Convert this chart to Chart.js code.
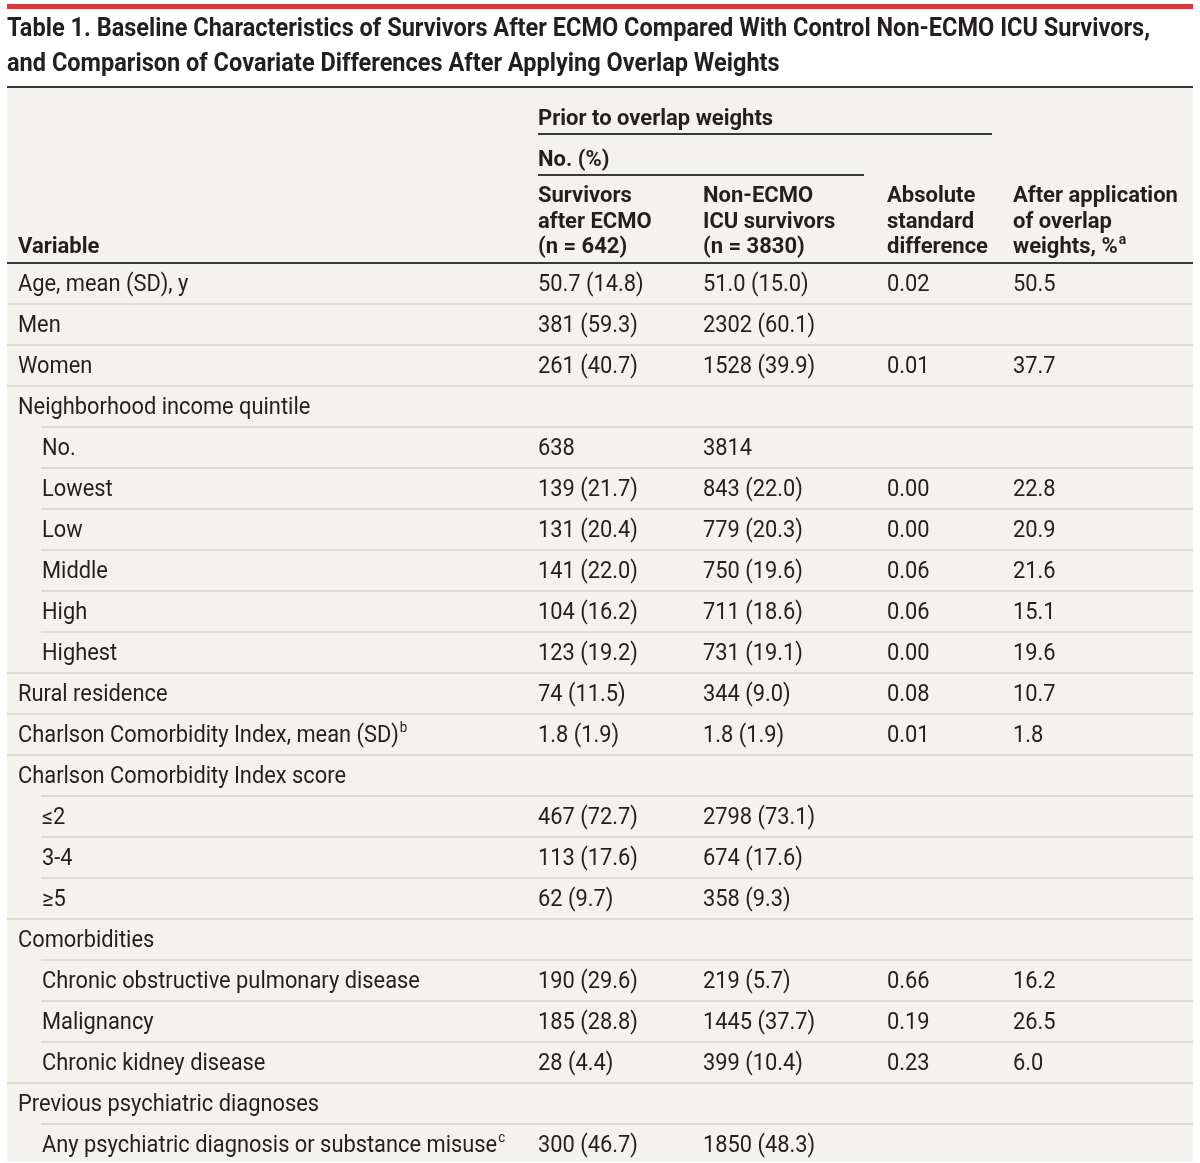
<!DOCTYPE html>
<html>
<head>
<meta charset="utf-8">
<script src="https://cdn.jsdelivr.net/npm/chart.js@4.4.1/dist/chart.umd.min.js"></script>
<style>
  html, body { margin: 0; padding: 0; background: #fff; overflow: hidden; }
  #wrap { width: 1200px; height: 1165px; }
</style>
</head>
<body>
<div id="wrap"><canvas id="tableChart" width="1200" height="1165"></canvas></div>
<script>
// table content
const titleLines = [
  'Table 1. Baseline Characteristics of Survivors After ECMO Compared With Control Non-ECMO ICU Survivors,',
  'and Comparison of Covariate Differences After Applying Overlap Weights'
];
const spanner = 'Prior to overlap weights';
const subSpanner = 'No. (%)';
const columnHeads = [
  ['Variable'],
  ['Survivors', 'after ECMO', '(n = 642)'],
  ['Non-ECMO', 'ICU survivors', '(n = 3830)'],
  ['Absolute', 'standard', 'difference'],
  ['After application', 'of overlap', 'weights, %^a']
];

// ^ marks a footnote superscript
const variables = [
  'Age, mean (SD), y', 'Men', 'Women', 'Neighborhood income quintile',
  'No.', 'Lowest', 'Low', 'Middle', 'High', 'Highest',
  'Rural residence', 'Charlson Comorbidity Index, mean (SD)^b',
  'Charlson Comorbidity Index score', '≤2', '3-4', '≥5',
  'Comorbidities', 'Chronic obstructive pulmonary disease', 'Malignancy', 'Chronic kidney disease',
  'Previous psychiatric diagnoses', 'Any psychiatric diagnosis or substance misuse^c'
];
// 0 = top level row, 1 = sub row
const level = [0, 0, 0, 0, 1, 1, 1, 1, 1, 1, 0, 0, 0, 1, 1, 1, 0, 1, 1, 1, 0, 1];
const ecmoSurvivors = [
  '50.7 (14.8)', '381 (59.3)', '261 (40.7)', '', '638', '139 (21.7)', '131 (20.4)', '141 (22.0)',
  '104 (16.2)', '123 (19.2)', '74 (11.5)', '1.8 (1.9)', '', '467 (72.7)', '113 (17.6)', '62 (9.7)',
  '', '190 (29.6)', '185 (28.8)', '28 (4.4)', '', '300 (46.7)'
];
const nonEcmoSurvivors = [
  '51.0 (15.0)', '2302 (60.1)', '1528 (39.9)', '', '3814', '843 (22.0)', '779 (20.3)', '750 (19.6)',
  '711 (18.6)', '731 (19.1)', '344 (9.0)', '1.8 (1.9)', '', '2798 (73.1)', '674 (17.6)', '358 (9.3)',
  '', '219 (5.7)', '1445 (37.7)', '399 (10.4)', '', '1850 (48.3)'
];
const absStdDiff = [
  '0.02', '', '0.01', '', '', '0.00', '0.00', '0.06', '0.06', '0.00', '0.08', '0.01',
  '', '', '', '', '', '0.66', '0.19', '0.23', '', ''
];
const afterOverlap = [
  '50.5', '', '37.7', '', '', '22.8', '20.9', '21.6', '15.1', '19.6', '10.7', '1.8',
  '', '', '', '', '', '16.2', '26.5', '6.0', '', ''
];
const columns = [variables, ecmoSurvivors, nonEcmoSurvivors, absStdDiff, afterOverlap];

// layout (pixels)
const colX = [18, 538, 703, 887, 1013];
const subIndent = 24;
const tableLeft = 7, tableRight = 1193;
const FONT = 'Roboto, "Open Sans", sans-serif';
const bodyNarrow = 0.95;
const headNarrow = 1.0;

function drawRich(ctx, text, x, y, size, weight, sx) {
  const parts = text.split('^');
  ctx.save();
  ctx.translate(x, y);
  ctx.scale(sx, 1);
  ctx.font = weight + ' ' + size + 'px ' + FONT;
  ctx.fillText(parts[0], 0, 0);
  if (parts[1]) {
    const w = ctx.measureText(parts[0]).width;
    ctx.font = weight + ' ' + Math.round(size * 0.62) + 'px ' + FONT;
    ctx.fillText(parts[1], w + 1, -size * 0.42);
  }
  ctx.restore();
}

function hLine(ctx, x1, x2, y, color, w) {
  ctx.save();
  ctx.strokeStyle = color;
  ctx.lineWidth = w;
  ctx.beginPath();
  ctx.moveTo(x1, y);
  ctx.lineTo(x2, y);
  ctx.stroke();
  ctx.restore();
}

const tablePlugin = {
  id: 'tablePlugin',
  beforeDraw(chart) {
    const ctx = chart.ctx;
    const top = chart.chartArea.top;
    const yScale = chart.scales.y;
    const rowH = yScale.getPixelForValue(1) - yScale.getPixelForValue(0);

    // title block
    ctx.fillStyle = '#ffffff';
    ctx.fillRect(0, 0, chart.width, chart.height);
    ctx.fillStyle = '#d53a3c';
    ctx.fillRect(tableLeft, 4, tableRight - tableLeft, 5);
    ctx.fillStyle = '#231f20';
    ctx.font = 'bold 25px ' + FONT;
    const tw = ctx.measureText(titleLines[0]).width;
    const tsx = 1143 / tw;
    drawRich(ctx, titleLines[0], tableLeft, 36, 25, 'bold', tsx);
    drawRich(ctx, titleLines[1], tableLeft, 71, 25, 'bold', tsx);

    // table background
    ctx.fillStyle = '#f3f2ee';
    ctx.fillRect(tableLeft, 87, tableRight - tableLeft, chart.height - 87 - 3);
    hLine(ctx, tableLeft, tableRight, 87, '#3a3a3a', 2);

    // header
    ctx.fillStyle = '#231f20';
    drawRich(ctx, spanner, colX[1], top - 138, 22, 'bold', headNarrow);
    hLine(ctx, colX[1], 992, top - 129, '#3a3a3a', 2);
    drawRich(ctx, subSpanner, colX[1], top - 97, 22, 'bold', headNarrow);
    hLine(ctx, colX[1], 864, top - 88, '#3a3a3a', 2);
    columnHeads.forEach((lines, c) => {
      lines.forEach((ln, k) => {
        const yb = top - 10 - (lines.length - 1 - k) * 25.5;
        drawRich(ctx, ln, colX[c], yb, 22, 'bold', headNarrow);
      });
    });

    // row separators
    variables.forEach((v, i) => {
      const yTop = yScale.getPixelForValue(i) - rowH / 2;
      if (i === 0) {
        hLine(ctx, tableLeft, tableRight, yTop, '#3a3a3a', 2);
      } else {
        const x1 = level[i] ? colX[0] + subIndent - 1 : tableLeft;
        hLine(ctx, x1, tableRight, yTop, '#dcdad5', 2);
      }
    });
  },
  afterDatasetsDraw(chart) {
    const ctx = chart.ctx;
    ctx.fillStyle = '#231f20';
    chart.data.datasets.forEach((ds, c) => {
      const meta = chart.getDatasetMeta(c);
      meta.data.forEach((pt, i) => {
        const txt = columns[c][i];
        if (!txt) return;
        const x = c === 0 && level[i] ? pt.x + subIndent : pt.x;
        drawRich(ctx, txt, x, pt.y + 7.5, 23, 'normal', bodyNarrow);
      });
    });
  }
};

const datasets = columns.map((col, c) => ({
  label: 'col' + c,
  data: variables.map((v) => ({ x: colX[c], y: v })),
  pointRadius: 0,
  pointHoverRadius: 0,
  showLine: false
}));

new Chart(document.getElementById('tableChart'), {
  type: 'scatter',
  data: { labels: variables, datasets },
  options: {
    responsive: false,
    animation: false,
    devicePixelRatio: 1,
    layout: { padding: { top: 263, left: 0, right: 0, bottom: 0 } },
    plugins: { legend: { display: false }, tooltip: { enabled: false } },
    scales: {
      x: { type: 'linear', min: 0, max: 1200, display: false },
      y: { type: 'category', labels: variables, offset: true, display: false }
    }
  },
  plugins: [tablePlugin]
});
</script>
</body>
</html>
